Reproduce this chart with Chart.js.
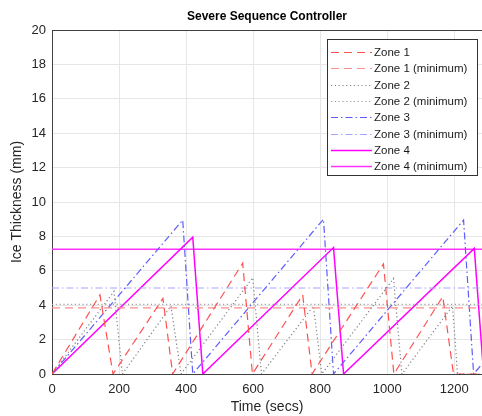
<!DOCTYPE html>
<html lang="en">

<head>
    <meta charset="UTF-8">
    <title>Severe Sequence Controller</title>
    <script src="https://cdn.jsdelivr.net/npm/chart.js"></script>
    <style>
        body {
            margin: 0;
            background: #ffffff;
        }
    </style>
</head>

<body>

    <canvas id="graficoHielo" width="482" height="416"></canvas>

<script>

    // Datos
    const zoneNames = ['Zone 1', 'Zone 2', 'Zone 3', 'Zone 4'];
    const minLevels = [3.85, 4.05, 5.0, 7.25];

    const zone1Time = [0, 143, 182, 331, 360, 569, 598, 748, 776, 989, 1020, 1166, 1198, 1290];
    const zone1Ice = [0, 4.6, 0, 4.4, 0, 6.45, 0, 4.6, 0, 6.4, 0, 4.5, 0, 0];

    const zone2Time = [0, 185, 210, 355, 385, 599, 625, 780, 805, 1019, 1044, 1195, 1210, 1290];
    const zone2Ice = [0, 4.8, 0, 3.95, 0, 5.6, 0, 3.95, 0, 5.55, 0, 3.95, 0, 0];

    const zone3Time = [0, 390, 420, 810, 840, 1228, 1258, 1290];
    const zone3Ice = [0, 8.95, 0, 9.0, 0, 8.95, 0, 0.74];

    const zone4Time = [0, 420, 450, 840, 870, 1260, 1288];
    const zone4Ice = [0, 7.95, 0, 7.35, 0, 7.3, 0];

    const minTime = [0, 1290];

    const xTicks = [0, 200, 400, 600, 800, 1000, 1200];
    const yTicks = [0, 2, 4, 6, 8, 10, 12, 14, 16, 18, 20];

    const fuente = 'Liberation Sans, Arial, sans-serif';

    function puntos(tiempos, valores) {
        return tiempos.map((t, i) => ({ x: t, y: valores[i] }));
    }

    // Leyenda dentro del area del grafico (estilo MATLAB)
    const leyendaCaja = {
        id: 'leyendaCaja',
        afterDatasetsDraw(chart) {
            const ctx = chart.ctx;
            const area = chart.chartArea;
            const w = 150, h = 136;
            const left = area.right - 155, top = area.top + 9;

            ctx.save();
            ctx.fillStyle = '#ffffff';
            ctx.fillRect(left, top, w, h);
            ctx.strokeStyle = '#333333';
            ctx.lineWidth = 1;
            ctx.setLineDash([]);
            ctx.strokeRect(left + 0.5, top + 0.5, w, h);

            ctx.font = '11.5px ' + fuente;
            ctx.textBaseline = 'middle';
            ctx.textAlign = 'left';

            chart.data.datasets.forEach((ds, i) => {
                const y = Math.round(top + 13 + i * 16.3) + 0.5;
                ctx.strokeStyle = ds.borderColor;
                ctx.lineWidth = ds.borderWidth;
                ctx.setLineDash(ds.borderDash || []);
                ctx.beginPath();
                ctx.moveTo(left + 4, y);
                ctx.lineTo(left + 45, y);
                ctx.stroke();
                ctx.setLineDash([]);
                ctx.fillStyle = '#1a1a1a';
                ctx.fillText(ds.label, left + 47, y);
            });
            ctx.restore();
        }
    };

    function crearGrafico() {
        const ctx = document.getElementById('graficoHielo').getContext('2d');

        const estilos = [
            { color: '#ff5050', colorMin: '#ff8c8c', dash: [8, 5], ancho: 1.2 },
            { color: '#808080', colorMin: '#a0a0a0', dash: [1.2, 2.6], ancho: 1.2 },
            { color: '#5c5cff', colorMin: '#a5a5ff', dash: [7, 3, 1.5, 3], ancho: 1.2 },
            { color: '#ff00ff', colorMin: '#ff33ff', dash: [], ancho: 1.5 }
        ];

        const series = [
            puntos(zone1Time, zone1Ice),
            puntos(zone2Time, zone2Ice),
            puntos(zone3Time, zone3Ice),
            puntos(zone4Time, zone4Ice)
        ];

        const datasets = [];
        zoneNames.forEach((nombre, i) => {
            const e = estilos[i];
            datasets.push({
                label: nombre,
                data: series[i],
                borderColor: e.color,
                borderDash: e.dash,
                borderWidth: e.ancho,
                pointRadius: 0,
                tension: 0
            });
            datasets.push({
                label: nombre + ' (minimum)',
                data: puntos(minTime, [minLevels[i], minLevels[i]]),
                borderColor: e.colorMin,
                borderDash: e.dash,
                borderWidth: e.ancho,
                pointRadius: 0,
                tension: 0
            });
        });

        new Chart(ctx, {
            type: 'line',
            data: { datasets: datasets },
            options: {
                responsive: false,
                animation: false,
                layout: { padding: 0 },
                plugins: {
                    legend: { display: false },
                    title: { display: false },
                    tooltip: { enabled: false }
                },
                scales: {
                    x: {
                        type: 'linear',
                        position: 'bottom',
                        min: 0,
                        max: 1283,
                        afterBuildTicks: (s) => { s.ticks = xTicks.map(v => ({ value: v })); },
                        afterFit: (s) => { s.height = 42; },
                        grid: { color: '#e6e6e6', drawTicks: false },
                        border: { display: true, color: '#404040', width: 1 },
                        ticks: {
                            padding: 8,
                            color: '#262626',
                            font: { family: fuente, size: 13 },
                            maxRotation: 0,
                            callback: (v) => String(v)
                        },
                        title: {
                            display: true,
                            text: 'Time (secs)',
                            color: '#262626',
                            font: { family: fuente, size: 14 },
                            padding: 0
                        }
                    },
                    xTop: {
                        type: 'linear',
                        position: 'top',
                        afterFit: (s) => { s.height = 30; },
                        grid: { display: false },
                        ticks: { display: false },
                        border: { display: true, color: '#404040', width: 1 },
                        title: {
                            display: true,
                            text: 'Severe Sequence Controller',
                            color: '#000000',
                            font: { family: fuente, size: 12, weight: 'bold' },
                            padding: { top: 9, bottom: 0 }
                        }
                    },
                    y: {
                        type: 'linear',
                        min: 0,
                        max: 20,
                        afterBuildTicks: (s) => { s.ticks = yTicks.map(v => ({ value: v })); },
                        afterFit: (s) => { s.width = 52; },
                        grid: { color: '#e6e6e6', drawTicks: false },
                        border: { display: true, color: '#404040', width: 1 },
                        ticks: {
                            padding: 6,
                            color: '#262626',
                            font: { family: fuente, size: 13 },
                            callback: (v) => String(v)
                        },
                        title: {
                            display: true,
                            text: 'Ice Thickness (mm)',
                            color: '#262626',
                            font: { family: fuente, size: 14 },
                            padding: { top: 9, bottom: 0 }
                        }
                    }
                }
            },
            plugins: [leyendaCaja]
        });
    }

    document.addEventListener('DOMContentLoaded', () => {
        crearGrafico();
    });

</script>

</body>
</html>
